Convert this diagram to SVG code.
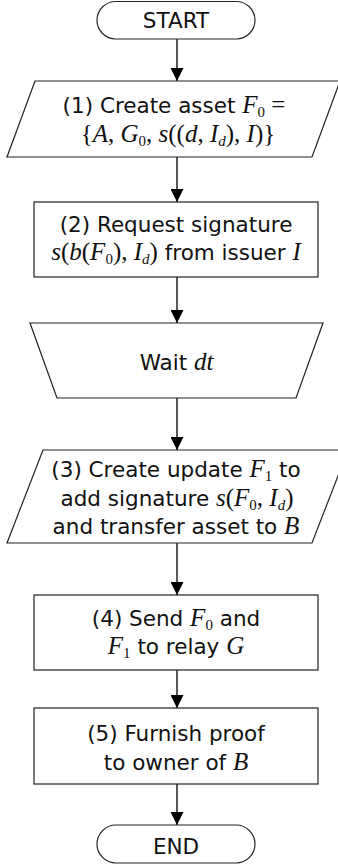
<svg xmlns="http://www.w3.org/2000/svg" width="338" height="865" viewBox="0 0 338 865">
<style>
.sh{fill:#fff;stroke:#222;stroke-width:1.2}
.t{font-family:"DejaVu Sans",sans-serif;font-size:21.5px;fill:#111;text-anchor:middle}
.mi{font-family:"Liberation Serif",serif;font-style:italic;font-size:25px}
.mr{font-family:"Liberation Serif",serif;font-style:normal;font-size:25px}
.sub{font-family:"Liberation Serif",serif;font-style:normal;font-size:15px}
.subi{font-family:"Liberation Serif",serif;font-style:italic;font-size:15px}
.c{stroke:#000;stroke-width:1.3;fill:none;marker-end:url(#ah)}
</style>
<defs>
<marker id="ah" viewBox="0 0 13 13" refX="13" refY="6.5" markerWidth="13" markerHeight="13" markerUnits="userSpaceOnUse" orient="auto">
<path d="M0,0 L13,6.5 L0,13 z" fill="#000"/>
</marker>
</defs>
<g id="connectors">
<line class="c" x1="177" y1="39" x2="177" y2="81"/>
<line class="c" x1="177" y1="157" x2="177" y2="202"/>
<line class="c" x1="177" y1="277" x2="177" y2="323"/>
<line class="c" x1="177" y1="398" x2="177" y2="450"/>
<line class="c" x1="177" y1="543" x2="177" y2="595"/>
<line class="c" x1="177" y1="670" x2="177" y2="708"/>
<line class="c" x1="177" y1="784" x2="177" y2="825"/>
</g>
<g id="start">
<rect class="sh" x="97" y="1.5" width="158" height="37.5" rx="18.75"/>
<text class="t" x="176" y="28">START</text>
</g>
<g id="step1">
<polygon class="sh" points="35,81 340,81 312,157 7,157"/>
<text class="t" x="174" y="113">(1) Create asset <tspan class="mi">F</tspan><tspan class="sub" dy="4">0</tspan><tspan class="mr" dy="-4"> =</tspan></text>
<text class="t" x="178" y="142"><tspan class="mr">{</tspan><tspan class="mi">A</tspan><tspan class="mr">, </tspan><tspan class="mi">G</tspan><tspan class="sub" dy="4">0</tspan><tspan class="mr" dy="-4">, </tspan><tspan class="mi">s</tspan><tspan class="mr">((</tspan><tspan class="mi">d</tspan><tspan class="mr">, </tspan><tspan class="mi">I</tspan><tspan class="subi" dy="4">d</tspan><tspan class="mr" dy="-4">), </tspan><tspan class="mi">I</tspan><tspan class="mr">)}</tspan></text>
</g>
<g id="step2">
<rect class="sh" x="34" y="202" width="284" height="75"/>
<text class="t" x="176" y="232">(2) Request signature</text>
<text class="t" x="176" y="260"><tspan class="mi">s</tspan><tspan class="mr">(</tspan><tspan class="mi">b</tspan><tspan class="mr">(</tspan><tspan class="mi">F</tspan><tspan class="sub" dy="4">0</tspan><tspan class="mr" dy="-4">), </tspan><tspan class="mi">I</tspan><tspan class="subi" dy="4">d</tspan><tspan class="mr" dy="-4">)</tspan> from issuer <tspan class="mi">I</tspan></text>
</g>
<g id="wait">
<polygon class="sh" points="30,323 323,323 296,398 57,398"/>
<text class="t" x="176.5" y="370">Wait <tspan class="mi">dt</tspan></text>
</g>
<g id="step3">
<polygon class="sh" points="43,450 348,450 312,543 7,543"/>
<text class="t" x="176" y="477">(3) Create update <tspan class="mi">F</tspan><tspan class="sub" dy="4">1</tspan><tspan dy="-4"> to</tspan></text>
<text class="t" x="177" y="506">add signature <tspan class="mi">s</tspan><tspan class="mr">(</tspan><tspan class="mi">F</tspan><tspan class="sub" dy="4">0</tspan><tspan class="mr" dy="-4">, </tspan><tspan class="mi">I</tspan><tspan class="subi" dy="4">d</tspan><tspan class="mr" dy="-4">)</tspan></text>
<text class="t" x="176" y="534">and transfer asset to <tspan class="mi">B</tspan></text>
</g>
<g id="step4">
<rect class="sh" x="34" y="595" width="284" height="75"/>
<text class="t" x="176" y="626">(4) Send <tspan class="mi">F</tspan><tspan class="sub" dy="4">0</tspan><tspan dy="-4"> and</tspan></text>
<text class="t" x="176" y="654"><tspan class="mi">F</tspan><tspan class="sub" dy="4">1</tspan><tspan dy="-4"> to relay </tspan><tspan class="mi">G</tspan></text>
</g>
<g id="step5">
<rect class="sh" x="34" y="708" width="284" height="76"/>
<text class="t" x="176" y="741">(5) Furnish proof</text>
<text class="t" x="176" y="770">to owner of <tspan class="mi">B</tspan></text>
</g>
<g id="end">
<rect class="sh" x="97" y="825" width="158" height="38" rx="19"/>
<text class="t" x="176" y="854">END</text>
</g>
</svg>
